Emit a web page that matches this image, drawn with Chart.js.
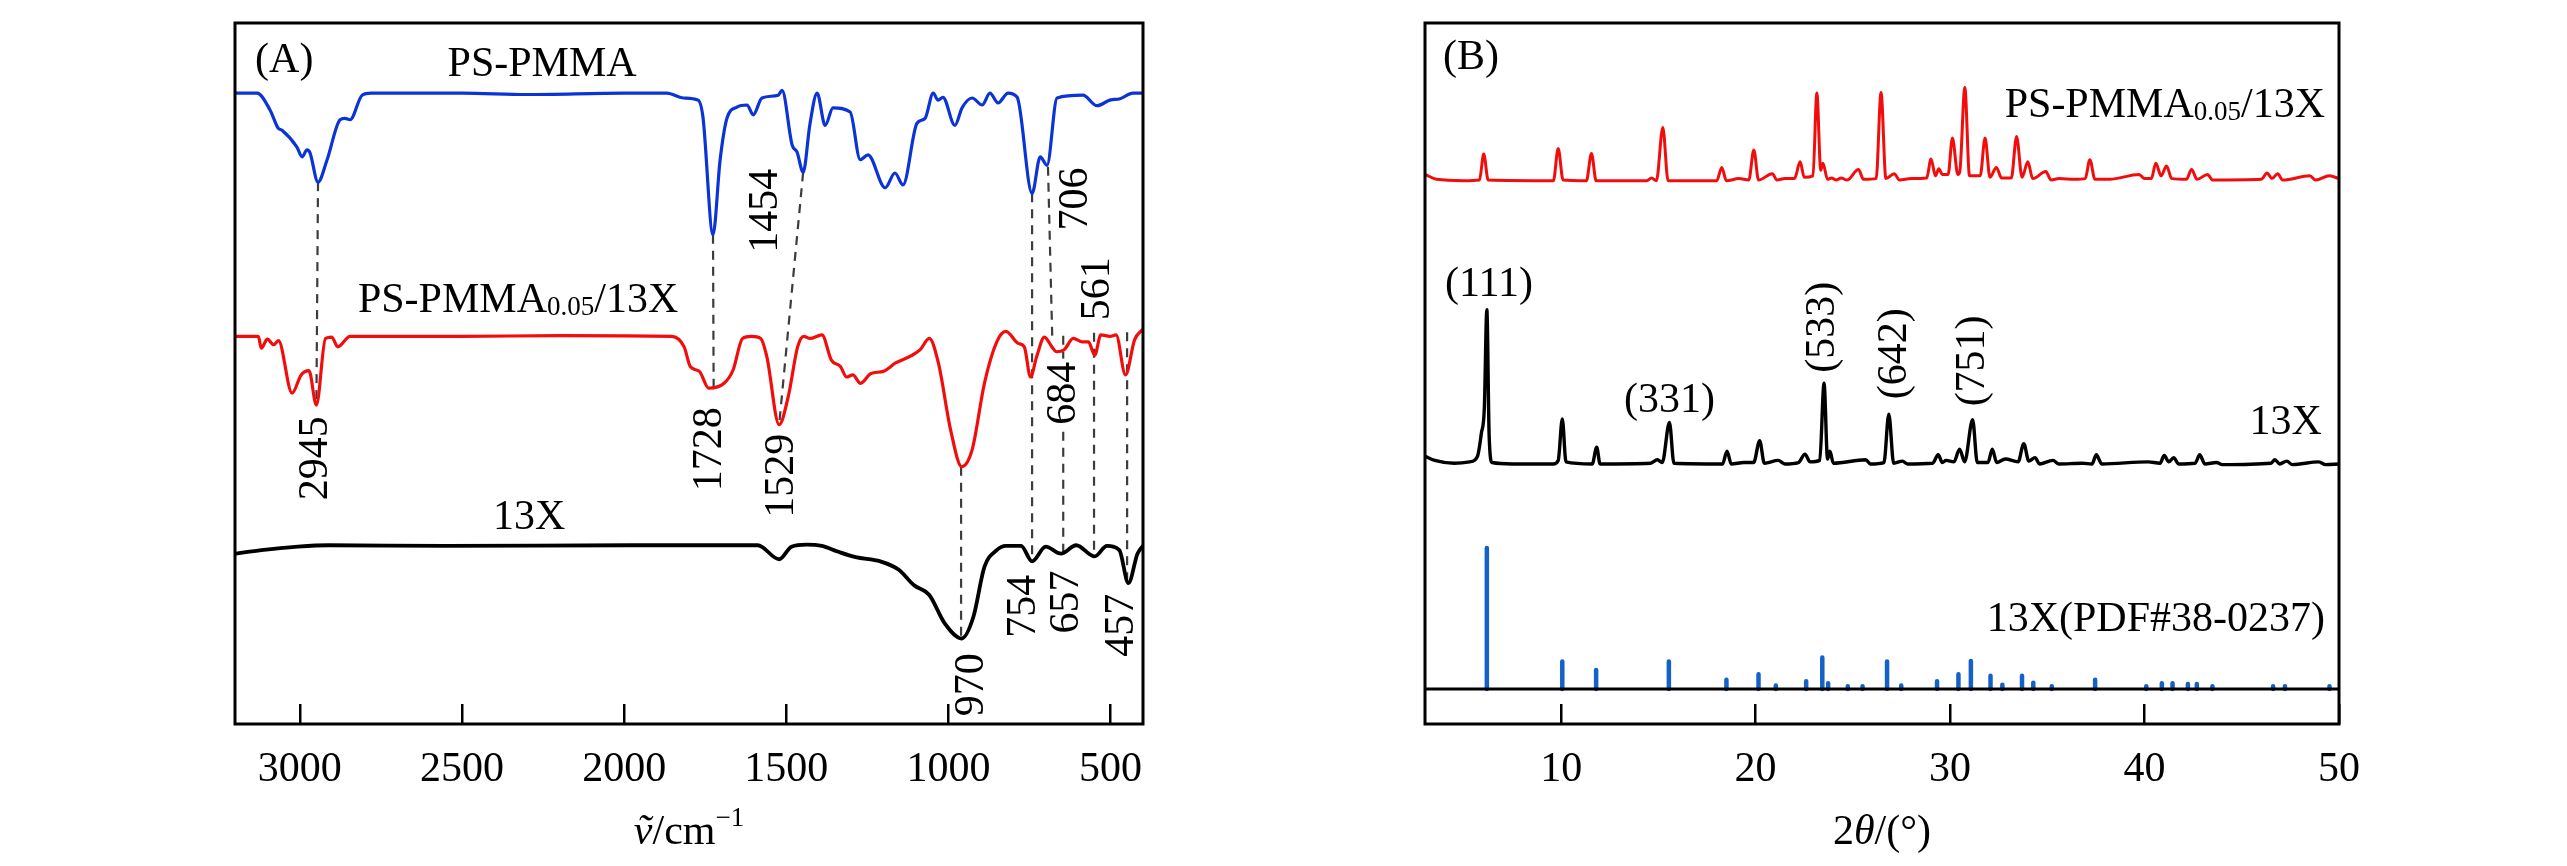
<!DOCTYPE html>
<html>
<head>
<meta charset="utf-8">
<title>FTIR and XRD</title>
<script src="https://cdn.jsdelivr.net/npm/chart.js@4.4.0/dist/chart.umd.min.js"></script>
<style>
  html, body { margin: 0; padding: 0; background: #fff; }
  #wrap { position: relative; width: 2567px; height: 866px; }
  .panel { position: absolute; top: 0; height: 866px; }
</style>
</head>
<body>
<div id="wrap">
  <div class="panel" style="left:0;width:1284px"><canvas id="ftirChart" width="1284" height="866"></canvas></div>
  <div class="panel" style="left:1284px;width:1283px"><canvas id="xrdChart" width="1283" height="866"></canvas></div>
</div>
<script>
// ---- (A) FTIR, [wavenumber, transmittance a.u.] ----
const ftirTicks = [3000, 2500, 2000, 1500, 1000, 500];

const ftirPsPmma = [
  [3200, 90.0], [3132, 90.0], [3092, 87.6], [3067, 85.0], [3055, 84.7], [3009, 82.3], [2993, 80.9],
  [2978, 81.9], [2969, 81.5], [2944, 77.3], [2916, 80.5], [2876, 86.2], [2861, 86.4], [2845, 86.2],
  [2808, 89.7], [2780, 90.0], [2500, 90.0], [2300, 89.8], [2000, 90.0], [1868, 90.0], [1818, 89.3],
  [1772, 89.0], [1757, 86.6], [1726, 69.8], [1704, 80.5], [1683, 86.4], [1652, 88.0], [1621, 88.3],
  [1602, 86.9], [1575, 89.3], [1525, 89.7], [1513, 90.4], [1482, 82.6], [1467, 81.6], [1448, 78.7],
  [1427, 85.6], [1405, 90.0], [1380, 85.4], [1356, 87.9], [1303, 87.3], [1272, 80.5], [1248, 81.2],
  [1195, 76.5], [1165, 78.6], [1140, 76.9], [1097, 85.7], [1072, 86.4], [1047, 90.0], [1032, 89.0],
  [1017, 89.4], [980, 85.4], [958, 87.9], [927, 89.3], [896, 88.3], [872, 90.0], [847, 88.6],
  [816, 90.0], [788, 89.4], [742, 75.7], [717, 80.9], [696, 79.7], [665, 89.3], [585, 89.7],
  [542, 88.2], [502, 89.0], [471, 89.2], [431, 90.0], [400, 90.0]
];

const ftirComposite = [
  [3198, 55.3], [3128, 55.3], [3119, 53.6], [3100, 54.9], [3081, 54.1], [3066, 54.7], [3024, 47.2],
  [2996, 49.8], [2972, 50.4], [2949, 45.5], [2921, 55.0], [2902, 55.2], [2883, 53.8], [2845, 55.3],
  [2500, 55.3], [2200, 55.4], [1853, 55.3], [1815, 53.8], [1796, 51.0], [1768, 50.3], [1739, 47.9],
  [1692, 48.6], [1664, 50.5], [1635, 55.0], [1607, 55.3], [1579, 55.0], [1560, 52.4], [1522, 42.7],
  [1494, 46.7], [1465, 53.8], [1446, 55.3], [1427, 55.0], [1390, 55.5], [1361, 51.9], [1333, 51.0],
  [1314, 49.5], [1295, 49.8], [1271, 48.6], [1239, 50.0], [1201, 50.3], [1163, 51.5], [1116, 52.5],
  [1087, 53.4], [1059, 55.0], [1031, 51.5], [993, 41.9], [959, 36.7], [927, 39.1], [889, 48.6],
  [851, 54.5], [823, 56.0], [785, 54.3], [766, 53.8], [747, 49.5], [728, 52.4], [704, 55.2],
  [681, 53.8], [666, 53.1], [643, 53.4], [615, 55.0], [587, 54.5], [568, 54.5], [549, 52.6],
  [530, 55.5], [502, 55.3], [483, 55.5], [454, 49.8], [426, 54.8], [401, 56.3]
];

const ftir13X = [
  [3198, 24.3], [3119, 24.8], [3006, 25.3], [2911, 25.5], [2552, 25.4], [1985, 25.5], [1588, 25.5],
  [1522, 23.5], [1484, 25.3], [1437, 25.6], [1390, 25.4], [1342, 24.6], [1286, 23.8], [1210, 23.2],
  [1153, 22.0], [1106, 19.8], [1059, 18.4], [1012, 14.4], [959, 12.2], [923, 15.3], [889, 22.4],
  [851, 24.8], [823, 25.4], [776, 25.4], [742, 23.2], [700, 25.3], [653, 24.3], [606, 25.5],
  [549, 23.9], [511, 25.4], [473, 24.8], [445, 20.1], [417, 24.3], [398, 25.5]
];

// dashed guides joining matching bands
const ftirGuides = [
  [[2944, 77.3], [2949, 45.5]],
  [[1726, 69.8], [1724, 48.0]],
  [[1448, 78.7], [1522, 42.7]],
  [[742, 75.7], [742, 23.2]],
  [[693, 79.5], [680, 55.4]],
  [[961, 36.7], [961, 12.2]],
  [[646, 55.4], [646, 24.3]],
  [[551, 55.8], [551, 23.9]],
  [[449, 55.9], [449, 20.1]]
];

// ---- (B) XRD, [2theta, intensity a.u.] ----
const xrdTicks = [10, 20, 30, 40, 50];

const xrdComposite = [
  [3.0, 73.4], [3.6, 72.7], [5.0, 72.5], [5.8, 72.6], [6.02, 76.3], [6.25, 72.6], [9.6, 72.5],
  [9.85, 77.1], [10.1, 72.6], [11.3, 72.5], [11.56, 76.4], [11.8, 72.5], [14.4, 72.5], [14.65, 72.9],
  [14.9, 72.5], [15.23, 80.1], [15.5, 72.5], [18.0, 72.5], [18.26, 74.4], [18.5, 72.5], [19.14, 72.8],
  [19.65, 72.6], [19.91, 76.9], [20.15, 72.6], [20.86, 73.5], [21.1, 72.6], [21.5, 72.8], [22.0, 72.8],
  [22.29, 75.2], [22.5, 73.0], [22.95, 73.2], [23.15, 85.0], [23.35, 74.0], [23.46, 75.0], [23.7, 72.7],
  [23.9, 72.9], [24.15, 72.6], [24.4, 72.9], [24.7, 72.6], [25.29, 74.1], [25.55, 72.7], [26.2, 72.8],
  [26.45, 85.1], [26.7, 72.8], [27.13, 73.5], [27.4, 72.6], [28.0, 72.8], [28.8, 72.9], [29.02, 75.6],
  [29.25, 73.2], [29.42, 74.2], [29.6, 73.4], [29.9, 73.4], [30.12, 78.6], [30.4, 73.4], [30.5, 73.8],
  [30.76, 85.8], [31.0, 73.2], [31.55, 73.2], [31.8, 78.6], [32.05, 73.0], [32.38, 74.4], [32.65, 72.9],
  [33.15, 72.9], [33.42, 78.8], [33.7, 73.0], [34.0, 75.2], [34.25, 72.8], [34.92, 73.8], [35.2, 72.6],
  [35.6, 72.8], [36.4, 72.7], [36.95, 72.8], [37.19, 75.5], [37.45, 72.7], [38.2, 72.7], [39.72, 73.4],
  [40.0, 72.8], [40.35, 72.8], [40.58, 75.0], [40.85, 73.2], [41.13, 74.6], [41.4, 72.8], [42.15, 72.7],
  [42.42, 74.1], [42.7, 72.7], [43.24, 73.4], [43.5, 72.6], [46.0, 72.7], [46.3, 73.6], [46.55, 72.8],
  [46.85, 73.5], [47.1, 72.6], [48.5, 73.2], [48.8, 72.6], [49.51, 73.2], [50.0, 72.8]
];

const xrd13X = [
  [3.0, 33.2], [3.5, 32.6], [4.5, 32.2], [5.3, 32.4], [5.7, 33.2], [5.9, 36.5], [6.05, 40.0],
  [6.18, 54.1], [6.3, 36.0], [6.45, 32.3], [7.5, 32.1], [9.6, 32.1], [9.85, 32.6], [10.06, 38.5],
  [10.25, 32.4], [11.6, 32.1], [11.83, 34.5], [12.0, 32.1], [14.6, 32.2], [14.95, 32.7], [15.2, 32.3],
  [15.57, 38.0], [15.8, 32.2], [18.3, 32.1], [18.53, 33.9], [18.75, 32.1], [19.4, 32.3], [19.9, 32.3],
  [20.21, 35.4], [20.45, 32.2], [21.16, 32.6], [21.5, 32.1], [22.2, 32.3], [22.54, 33.5], [22.8, 32.4],
  [23.3, 32.6], [23.52, 43.6], [23.7, 32.8], [23.82, 33.9], [24.0, 32.2], [25.66, 32.7], [25.9, 32.1],
  [26.6, 32.3], [26.85, 39.2], [27.1, 32.2], [27.55, 32.5], [27.8, 32.1], [29.1, 32.2], [29.39, 33.4],
  [29.6, 32.3], [29.79, 32.6], [30.2, 32.4], [30.49, 34.2], [30.75, 32.4], [31.16, 38.4], [31.4, 32.3],
  [31.95, 32.3], [32.17, 34.2], [32.4, 32.3], [32.84, 32.8], [33.5, 32.4], [33.79, 35.0], [34.05, 32.5],
  [34.37, 33.0], [34.6, 32.1], [35.29, 32.6], [35.6, 32.1], [36.8, 32.2], [37.3, 32.1], [37.52, 33.4],
  [37.8, 32.1], [40.18, 32.4], [40.8, 32.2], [41.01, 33.3], [41.25, 32.4], [41.5, 33.0], [41.75, 32.1],
  [42.6, 32.2], [42.84, 33.4], [43.1, 32.1], [43.7, 32.3], [44.0, 32.0], [46.5, 32.2], [46.7, 32.7],
  [46.95, 32.1], [47.31, 32.5], [47.6, 32.0], [48.96, 32.4], [49.3, 32.0], [50.0, 32.1]
];

// standard card 13X (PDF#38-0237)
const stickPos = [6.18, 10.06, 11.80, 15.54, 18.50, 20.15, 21.04, 22.60, 23.43, 23.73, 24.74, 25.50,
  26.76, 27.49, 29.33, 30.43, 31.07, 32.08, 32.69, 33.70, 34.28, 35.23, 37.46, 40.09, 40.89, 41.44,
  42.23, 42.69, 43.49, 46.61, 47.22, 49.51];
const stickInt = [20.1, 3.9, 2.7, 3.9, 1.3, 2.1, 0.5, 1.1, 4.5, 0.8, 0.4, 0.4,
  3.9, 0.5, 1.1, 2.1, 4.0, 1.9, 0.6, 1.9, 0.9, 0.4, 1.3, 0.4, 0.8, 0.8,
  0.7, 0.7, 0.4, 0.4, 0.4, 0.4];

// ---- helpers ----
const SERIF = "'Liberation Serif', 'Times New Roman', serif";
const FS = 42;

const toXY = arr => arr.map(p => ({ x: p[0], y: p[1] }));
function segments(list) {
  const out = [];
  list.forEach(seg => {
    seg.forEach(p => out.push({ x: p[0], y: p[1] }));
    out.push({ x: seg[seg.length - 1][0], y: null });
  });
  return out;
}
function sticks(pos, h) {
  const out = [];
  pos.forEach((x, i) => {
    out.push({ x: x, y: 0 }, { x: x, y: h[i] }, { x: x, y: null });
  });
  return out;
}

function partFont(p, size) {
  const small = p[1] === 'sub' || p[1] === 'sup';
  const s = small ? Math.round(size * 0.64) : size;
  return (p[1] === 'it' ? 'italic ' : '') + s + 'px ' + SERIF;
}
function measureParts(ctx, parts, size) {
  return parts.map(p => { ctx.font = partFont(p, size); return ctx.measureText(p[0]).width; });
}
function drawParts(ctx, parts, x, y, align, size) {
  const w = measureParts(ctx, parts, size);
  const total = w.reduce((a, b) => a + b, 0);
  let cx = align === 'left' ? x : align === 'right' ? x - total : x - total / 2;
  const base = y + size * 0.33;
  parts.forEach((p, i) => {
    ctx.font = partFont(p, size);
    let by = base;
    if (p[1] === 'sub') by += size * 0.08;
    if (p[1] === 'sup') by -= size * 0.42;
    ctx.fillText(p[0], cx, by);
    cx += w[i];
  });
}

const framePlugin = {
  id: 'frame',
  afterDatasetsDraw(chart) {
    const a = chart.chartArea, ctx = chart.ctx;
    ctx.save();
    ctx.strokeStyle = '#000';
    ctx.lineWidth = 3;
    ctx.strokeRect(a.left, a.top, a.right - a.left, a.bottom - a.top);
    ctx.restore();
  }
};

const notesPlugin = {
  id: 'notes',
  afterDatasetsDraw(chart, args, opts) {
    const ctx = chart.ctx, xs = chart.scales.x, ys = chart.scales.y;
    ctx.save();
    ctx.fillStyle = '#000';
    ctx.textBaseline = 'alphabetic';
    (opts.items || []).forEach(it => {
      const parts = typeof it.t === 'string' ? [[it.t]] : it.t;
      const px = xs.getPixelForValue(it.x), py = ys.getPixelForValue(it.y);
      if (it.rot) {
        ctx.save();
        ctx.translate(px, py);
        ctx.rotate(-Math.PI / 2);
        if (it.bg) {
          const tw = measureParts(ctx, parts, FS).reduce((a, b) => a + b, 0);
          ctx.fillStyle = '#fff';
          ctx.fillRect(-tw / 2 - 3, -FS * 0.42, tw + 6, FS * 0.84);
          ctx.fillStyle = '#000';
        }
        drawParts(ctx, parts, 0, 0, 'center', FS);
        ctx.restore();
      } else {
        drawParts(ctx, parts, px, py, it.align || 'center', FS);
      }
    });
    ctx.restore();
  }
};

const axisTitlePlugin = {
  id: 'axisTitle',
  afterDraw(chart, args, opts) {
    const a = chart.chartArea, ctx = chart.ctx;
    ctx.save();
    ctx.fillStyle = '#000';
    drawParts(ctx, opts.parts, (a.left + a.right) / 2, a.bottom + 106, 'center', FS);
    ctx.restore();
  }
};

Chart.defaults.font.family = SERIF;
Chart.defaults.color = '#000';

function xScale(min, max, tickList, reverse) {
  return {
    type: 'linear', min: min, max: max, reverse: reverse,
    afterBuildTicks: s => { s.ticks = tickList.map(v => ({ value: v })); },
    afterFit: s => { s.height = 142; },
    border: { display: false },
    grid: { drawOnChartArea: false, drawTicks: true, tickLength: -20, color: '#000', lineWidth: 2.5 },
    ticks: {
      padding: 41, font: { size: FS, family: SERIF }, color: '#000', maxRotation: 0, autoSkip: false,
      callback: v => String(v)
    }
  };
}

function lineSet(data, color, width) {
  return {
    data: data, borderColor: color, borderWidth: width, pointRadius: 0,
    cubicInterpolationMode: 'monotone', fill: false
  };
}

// ---- (A) ----
new Chart(document.getElementById('ftirChart'), {
  type: 'line',
  data: {
    datasets: [
      lineSet(toXY(ftirPsPmma), '#0b34d6', 3.2),
      lineSet(toXY(ftirComposite), '#f20c0c', 3.2),
      lineSet(toXY(ftir13X), '#000000', 3.8),
      {
        data: segments(ftirGuides), borderColor: '#3c3c3c', borderWidth: 2.2,
        borderDash: [9, 7], pointRadius: 0, spanGaps: false, tension: 0
      }
    ]
  },
  options: {
    responsive: false, devicePixelRatio: 1, animation: false, events: [],
    layout: { padding: { left: 235, right: 141, top: 23, bottom: 0 } },
    scales: {
      x: xScale(400, 3200, ftirTicks, true),
      y: { type: 'linear', min: 0, max: 100, display: false }
    },
    plugins: {
      legend: { display: false }, tooltip: { enabled: false },
      notes: {
        items: [
          { t: '(A)', x: 3138, y: 95.0, align: 'left' },
          { t: 'PS-PMMA', x: 2253, y: 94.4 },
          { t: [['PS-PMMA'], ['0.05', 'sub'], ['/13X']], x: 2821, y: 60.8, align: 'left' },
          { t: '13X', x: 2293, y: 29.8 },
          { t: '2945', x: 2959, y: 37.9, rot: true },
          { t: '1728', x: 1744, y: 39.2, rot: true },
          { t: '1529', x: 1522, y: 35.4, rot: true },
          { t: '1454', x: 1572, y: 73.2, rot: true },
          { t: '706', x: 616, y: 74.9, rot: true },
          { t: '561', x: 548, y: 62.1, rot: true },
          { t: '684', x: 653, y: 47.2, rot: true, bg: true },
          { t: '754', x: 776, y: 16.8, rot: true },
          { t: '657', x: 643, y: 17.4, rot: true },
          { t: '457', x: 474, y: 14.1, rot: true },
          { t: '970', x: 936, y: 5.6, rot: true }
        ]
      },
      axisTitle: { parts: [['ṽ', 'it'], ['/cm'], ['−1', 'sup']] }
    }
  },
  plugins: [framePlugin, notesPlugin, axisTitlePlugin]
});

// ---- (B) ----
new Chart(document.getElementById('xrdChart'), {
  type: 'line',
  data: {
    datasets: [
      lineSet(toXY(xrdComposite), '#f20c0c', 3.0),
      lineSet(toXY(xrd13X), '#000000', 3.4),
      {
        data: [{ x: 3, y: 0 }, { x: 50, y: 0 }], borderColor: '#000', borderWidth: 3,
        pointRadius: 0, tension: 0
      },
      {
        data: sticks(stickPos, stickInt), borderColor: '#1461c8', borderWidth: 4.5,
        borderCapStyle: 'round', pointRadius: 0, spanGaps: false, tension: 0
      }
    ]
  },
  options: {
    responsive: false, devicePixelRatio: 1, animation: false, events: [],
    layout: { padding: { left: 141, right: 228, top: 23, bottom: 0 } },
    scales: {
      x: xScale(3, 50, xrdTicks, false),
      y: { type: 'linear', min: -5, max: 95, display: false }
    },
    plugins: {
      legend: { display: false }, tooltip: { enabled: false },
      notes: {
        items: [
          { t: '(B)', x: 3.92, y: 90.4, align: 'left' },
          { t: [['PS-PMMA'], ['0.05', 'sub'], ['/13X']], x: 49.28, y: 83.6, align: 'right' },
          { t: '(111)', x: 6.29, y: 58.1 },
          { t: '(331)', x: 15.57, y: 41.5 },
          { t: '(533)', x: 23.30, y: 51.6, rot: true },
          { t: '(642)', x: 27.01, y: 47.8, rot: true },
          { t: '(751)', x: 31.03, y: 46.8, rot: true },
          { t: '13X', x: 49.12, y: 38.4, align: 'right' },
          { t: '13X(PDF#38-0237)', x: 49.28, y: 10.3, align: 'right' }
        ]
      },
      axisTitle: { parts: [['2'], ['θ', 'it'], ['/(°)']] }
    }
  },
  plugins: [framePlugin, notesPlugin, axisTitlePlugin]
});
</script>
</body>
</html>
